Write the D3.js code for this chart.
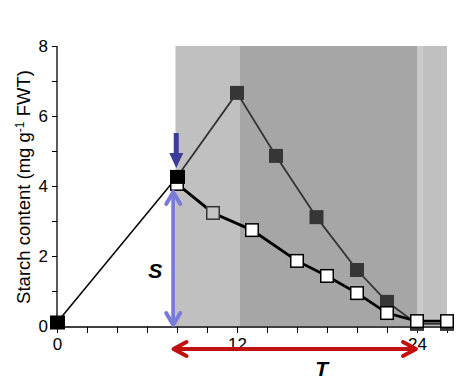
<!DOCTYPE html>
<html>
<head>
<meta charset="utf-8">
<script src="https://cdn.jsdelivr.net/npm/d3@7"></script>
<style>
  body { margin: 0; background: #fff; }
  text { font-family: Arial, "Liberation Sans", sans-serif; }
</style>
</head>
<body>
<svg id="chart" width="471" height="390"></svg>
<script>
// hours, starch
const predawn = [[0, 0.1], [8, 4.26]];
const darkSeries = [[8, 4.26], [12, 6.66], [14.6, 4.86], [17.3, 3.11], [20, 1.6], [22, 0.69], [24, 0.06], [26, 0.06]];
const openSeries = [[8, 4.06], [10.4, 3.23], [13, 2.74], [16, 1.86], [18, 1.43], [20, 0.94], [22, 0.37], [24, 0.14], [26, 0.14]];
const bands = [
  { from: 7.9, to: 12.2, fill: "#c0c0c0" },
  { from: 12.2, to: 24, fill: "#a6a6a6" },
  { from: 24, to: 24.35, fill: "#cacaca" },
  { from: 24.35, to: 26, fill: "#c0c0c0" },
];
const xTicks = [0, 12, 24];
const yTicks = [0, 2, 4, 6, 8];

const svg = d3.select("#chart");
const x = d3.scaleLinear().domain([0, 26]).range([57, 447]);
const y = d3.scaleLinear().domain([0, 8]).range([326, 46]);

// shaded periods
svg.append("g").selectAll("rect").data(bands).join("rect")
  .attr("x", d => x(d.from))
  .attr("width", d => x(d.to) - x(d.from))
  .attr("y", y(8))
  .attr("height", y(0) - y(8))
  .attr("fill", d => d.fill);

// axes
const xAxis = d3.axisBottom(x).tickValues(d3.range(0, 27, 2)).tickSize(6)
  .tickFormat(d => xTicks.includes(d) ? d : "");
const gx = svg.append("g").attr("transform", `translate(0,${y(0) + 1})`).call(xAxis);
gx.select(".domain").attr("stroke", "#000").attr("stroke-width", 1.3).attr("d", `M${x(0)},0H${x(26)}`);
gx.selectAll(".tick line").attr("stroke", "#000");
gx.selectAll(".tick text").attr("font-size", 17).attr("dy", "0.82em").attr("fill", "#000");

const yAxis = d3.axisLeft(y).tickValues(d3.range(0, 9, 1)).tickSize(5)
  .tickFormat(d => yTicks.includes(d) ? d : "");
const gy = svg.append("g").attr("transform", `translate(${x(0)},0)`).call(yAxis);
gy.select(".domain").attr("stroke", "#000").attr("stroke-width", 1.3).attr("d", `M0,${y(8)}V${y(0) + 1}`);
gy.selectAll(".tick line").attr("stroke", "#000");
gy.selectAll(".tick text").attr("font-size", 17).attr("x", -9).attr("fill", "#000");

svg.append("text")
  .attr("transform", `translate(30,187) rotate(-90)`)
  .attr("text-anchor", "middle")
  .attr("font-size", 18.5)
  .html('Starch content (mg g<tspan dy="-6" font-size="12">-1</tspan><tspan dy="6"> FWT)</tspan>');

// lines
const line = d3.line().x(d => x(d[0])).y(d => y(d[1]));
svg.append("path").datum(predawn).attr("d", line).attr("fill", "none").attr("stroke", "#000").attr("stroke-width", 1.5);
svg.append("path").datum(darkSeries).attr("d", line).attr("fill", "none").attr("stroke", "#333").attr("stroke-width", 1.8);
svg.append("path").datum(openSeries).attr("d", line).attr("fill", "none").attr("stroke", "#000").attr("stroke-width", 2.8);

const s = 14;
svg.append("g").selectAll("rect").data(darkSeries.slice(1)).join("rect")
  .attr("x", d => x(d[0]) - s / 2).attr("y", d => y(d[1]) - s / 2)
  .attr("width", s).attr("height", s).attr("fill", "#363636");
svg.append("g").selectAll("rect").data(openSeries).join("rect")
  .attr("x", d => x(d[0]) - s / 2 + 0.75).attr("y", d => y(d[1]) - s / 2 + 0.75)
  .attr("width", s - 1.5).attr("height", s - 1.5)
  .attr("fill", (d, i) => i === 1 ? "#c4c4c4" : "#fff")
  .attr("stroke", (d, i) => i === 1 ? "#333" : "#000").attr("stroke-width", 1.5);
svg.append("g").selectAll("rect").data(predawn).join("rect")
  .attr("x", d => x(d[0]) - s / 2).attr("y", d => y(d[1]) - s / 2)
  .attr("width", s + 1).attr("height", s).attr("fill", "#000");

// blue down arrow marking peak-onset sample
const bx = x(7.95), bTop = y(4.26) - 44, bTip = y(4.26) - 9;
svg.append("path")
  .attr("d", `M${bx - 2.5},${bTop}H${bx + 2.5}V${bTip - 15}H${bx + 7}L${bx},${bTip}L${bx - 7},${bTip - 15}H${bx - 2.5}Z`)
  .attr("fill", "#3b3b99");

// S double arrow
const sx = x(7.75), sTop = y(4.06) + 7, sBot = y(0);
const sArrow = svg.append("g").attr("stroke", "#7a7ad8").attr("stroke-width", 4)
  .attr("fill", "none").attr("stroke-linecap", "round").attr("stroke-linejoin", "round");
sArrow.append("line").attr("x1", sx).attr("x2", sx).attr("y1", sTop + 2).attr("y2", sBot - 2);
sArrow.append("path").attr("d", `M${sx - 7},${sTop + 13}L${sx},${sTop + 1}L${sx + 7},${sTop + 13}`);
sArrow.append("path").attr("d", `M${sx - 7},${sBot - 13}L${sx},${sBot - 1}L${sx + 7},${sBot - 13}`);
svg.append("text").attr("x", sx - 18).attr("y", y(1.6) + 8).attr("text-anchor", "middle")
  .attr("font-size", 21).attr("font-style", "italic").attr("font-weight", "bold").text("S");

// T double arrow
const tY = 349, tL = x(7.7), tR = x(24);
const tArrow = svg.append("g").attr("stroke", "#c01010").attr("stroke-width", 4)
  .attr("fill", "none").attr("stroke-linecap", "round").attr("stroke-linejoin", "round");
tArrow.append("line").attr("x1", tL + 2).attr("x2", tR - 2).attr("y1", tY).attr("y2", tY);
tArrow.append("path").attr("d", `M${tL + 14},${tY - 7}L${tL + 1},${tY}L${tL + 14},${tY + 7}`);
tArrow.append("path").attr("d", `M${tR - 14},${tY - 7}L${tR - 1},${tY}L${tR - 14},${tY + 7}`);
svg.append("text").attr("x", (tL + tR) / 2 + 27).attr("y", 376).attr("text-anchor", "middle")
  .attr("font-size", 21).attr("font-style", "italic").attr("font-weight", "bold").text("T");
</script>
</body>
</html>
